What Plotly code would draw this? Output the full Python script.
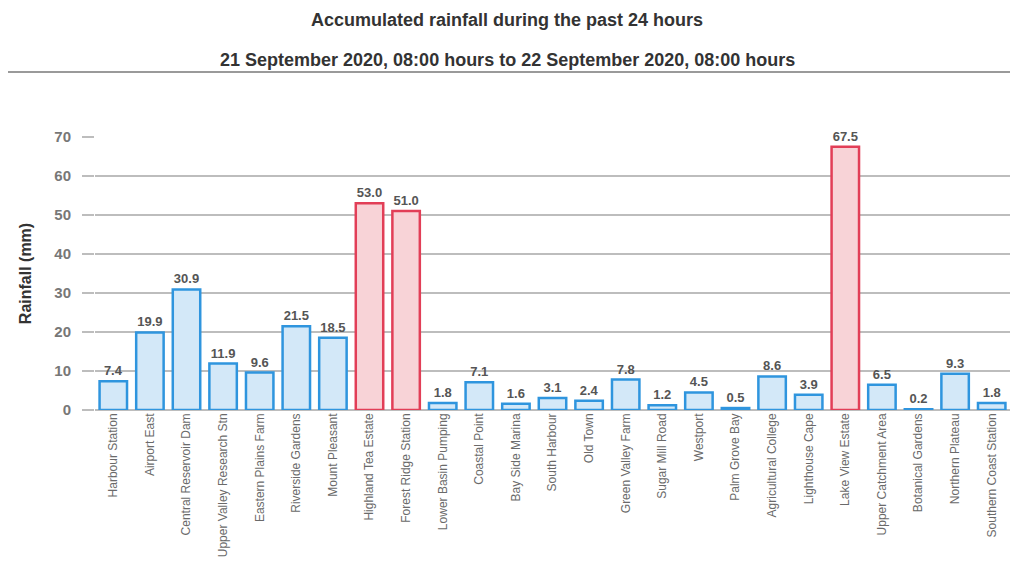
import plotly.graph_objects as go

# Rainfall stations and 24-hour totals (mm)
stations = [
    "Harbour Station", "Airport East", "Central Reservoir Dam",
    "Upper Valley Research Stn", "Eastern Plains Farm", "Riverside Gardens",
    "Mount Pleasant", "Highland Tea Estate", "Forest Ridge Station",
    "Lower Basin Pumping", "Coastal Point", "Bay Side Marina",
    "South Harbour", "Old Town", "Green Valley Farm", "Sugar Mill Road",
    "Westport", "Palm Grove Bay", "Agricultural College", "Lighthouse Cape",
    "Lake View Estate", "Upper Catchment Area", "Botanical Gardens",
    "Northern Plateau", "Southern Coast Station",
]
rainfall = [
    7.4, 19.9, 30.9, 11.9, 9.6, 21.5, 18.5, 53.0, 51.0,
    1.8, 7.1, 1.6, 3.1, 2.4, 7.8, 1.2, 4.5, 0.5, 8.6, 3.9,
    67.5, 6.5, 0.2, 9.3, 1.8,
]
y_ticks = [0, 10, 20, 30, 40, 50, 60, 70]
heavy_threshold = 50

title_line1 = "Accumulated rainfall during the past 24 hours"
title_line2 = "21 September 2020, 08:00 hours to 22 September 2020, 08:00 hours"

fill_colors = ["#f8d3d7" if v >= heavy_threshold else "#d3e8f8" for v in rainfall]
edge_colors = ["#e23e57" if v >= heavy_threshold else "#2f95de" for v in rainfall]

fig = go.Figure(
    go.Bar(
        x=stations,
        y=rainfall,
        marker=dict(color=fill_colors, line=dict(color=edge_colors, width=2.5)),
        text=[f"<b>{v:.1f}</b>" for v in rainfall],
        textposition="outside",
        textfont=dict(family="Liberation Sans, Arial", size=13, color="#555555"),
        constraintext="none",
        cliponaxis=False,
        hoverinfo="x+y",
    )
)

# pixel geometry of the plotting area
W, H = 1014, 585
left, right, top, bottom = 95, 4, 137, 175
pw = W - left - right
ph = H - top - bottom


def px_to_paper_x(px):
    return (px - left) / pw


def px_to_paper_y(py):
    return (H - bottom - py) / ph


fig.update_layout(
    width=W,
    height=H,
    margin=dict(l=left, r=right, t=top, b=bottom),
    paper_bgcolor="white",
    plot_bgcolor="white",
    showlegend=False,
    bargap=0.25,
    font=dict(family="Liberation Sans, Arial", color="#555555"),
    xaxis=dict(
        type="category",
        tickangle=-90,
        tickfont=dict(size=12, color="#6a6a6a"),
        showgrid=False,
        showline=False,
        ticks="",
    ),
    yaxis=dict(
        range=[0, 70],
        tickvals=y_ticks,
        ticktext=[f"<b>{t}</b>" for t in y_ticks],
        tickfont=dict(size=15, color="#777777", family="Liberation Sans, Arial"),
        ticklabelstandoff=8,
        showgrid=True,
        gridcolor="#bdbdbd",
        gridwidth=1.5,
        zeroline=True,
        zerolinecolor="#bdbdbd",
        zerolinewidth=1.5,
        ticks="outside",
        ticklen=12,
        tickcolor="#bdbdbd",
        tickwidth=1.5,
        title=dict(
            text="<b>Rainfall (mm)</b>",
            font=dict(size=16, color="#333333"),
            standoff=18,
        ),
    ),
    annotations=[
        dict(
            text=f"<b>{title_line1}</b>",
            xref="paper", yref="paper",
            x=px_to_paper_x(W / 2), y=px_to_paper_y(20),
            xanchor="center", yanchor="middle",
            showarrow=False,
            font=dict(size=18, color="#333333"),
        ),
        dict(
            text=f"<b>{title_line2}</b>",
            xref="paper", yref="paper",
            x=px_to_paper_x(W / 2), y=px_to_paper_y(60),
            xanchor="center", yanchor="middle",
            showarrow=False,
            font=dict(size=18, color="#333333"),
        ),
    ],
    shapes=[
        dict(
            type="line",
            xref="paper", yref="paper",
            x0=px_to_paper_x(8), x1=px_to_paper_x(1010),
            y0=px_to_paper_y(72), y1=px_to_paper_y(72),
            line=dict(color="#9a9a9a", width=2),
        )
    ],
)

fig.write_html("out.html")
